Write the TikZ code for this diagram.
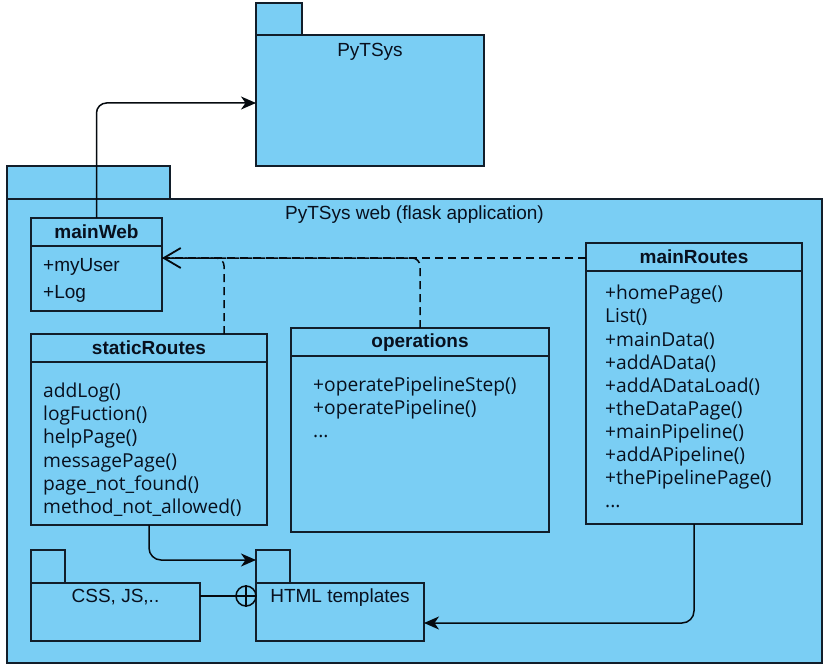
\documentclass[tikz,border=0pt]{standalone}
\usepackage{fontspec}
\setmainfont{Liberation Sans}
\newfontfamily\memfont{Open Sans}
\usetikzlibrary{arrows.meta,calc}
\definecolor{pkgfill}{RGB}{122,206,244}
\definecolor{linec}{RGB}{18,30,42}
\definecolor{arrc}{RGB}{5,10,15}
\definecolor{txt}{RGB}{8,16,30}
\def\mydots{...}
\begin{document}
\begin{tikzpicture}[x=1pt,y=-1pt,
  box/.style={draw=linec, fill=pkgfill, line width=1.4pt, inner sep=0pt, outer sep=0pt, anchor=north west, rectangle},
  lbl/.style={text=txt, font=\fontsize{19}{23}\selectfont, inner sep=0pt, text height=13.6pt, text depth=0pt},
  hdr/.style={lbl, font=\fontsize{19}{23}\selectfont\bfseries},
  mem/.style={lbl, anchor=west, font=\fontsize{19.2}{23}\selectfont\memfont},
  conn/.style={draw=arrc, line width=1.5pt},
  dashconn/.style={conn, dash pattern=on 8pt off 5pt},
  solidtip/.style={-{Stealth[length=15pt,width=13pt,inset=4.5pt]}},
  opentip/.style={-{Straight Barb[length=17pt,width=20pt,line width=1.8pt]}}
]
\path[fill=white,use as bounding box] (0,0) rectangle (827,671);

% PyTSys package
\node[box, minimum width=46pt, minimum height=32pt] (pytab) at (256,3) {};
\node[box, minimum width=228pt, minimum height=131pt] (pytsys) at (256,35) {};
\node[lbl] (pytitle) at (370,49.5) {PyTSys};

% outer package
\node[box, minimum width=163pt, minimum height=33pt] (webtab) at (7,166) {};
\node[box, minimum width=815pt, minimum height=464pt] (web) at (7,199) {};
\node[lbl] (webtitle) at (414.5,212.5) {PyTSys web (flask application)};

% mainWeb
\node[box, minimum width=131pt, minimum height=93pt] (mainWeb) at (31,218) {};
\draw[draw=linec, line width=1.4pt] (mainWeb.north west |- 0,246) -- (mainWeb.north east |- 0,246);
\node[hdr] (mwh) at (96.5,231.5) {mainWeb};
\node[lbl, anchor=west] (mw1) at (43,265) {+myUser};
\node[lbl, anchor=west] (mw2) at (43,292) {+Log};

% staticRoutes
\node[box, minimum width=236pt, minimum height=191pt] (staticRoutes) at (31,334) {};
\draw[draw=linec, line width=1.4pt] (staticRoutes.north west |- 0,362) -- (staticRoutes.north east |- 0,362);
\node[hdr] (srh) at (149,347.5) {staticRoutes};
\foreach \t [count=\i] in {addLog(),logFuction(),helpPage(),messagePage(),page\_not\_found(),method\_not\_allowed()}
  \node[mem] (sr\i) at (43,{390.5+23.3*(\i-1)}) {\t};

% operations
\node[box, minimum width=258pt, minimum height=204pt] (operations) at (291,328) {};
\draw[draw=linec, line width=1.4pt] (operations.north west |- 0,356) -- (operations.north east |- 0,356);
\node[hdr] (oph) at (420,340.5) {operations};
\foreach \t [count=\i] in {+operatePipelineStep(),+operatePipeline(),\mydots}
  \node[mem] (op\i) at (313,{384.5+23*(\i-1)}) {\t};

% mainRoutes
\node[box, minimum width=216pt, minimum height=281pt] (mainRoutes) at (586,243) {};
\draw[draw=linec, line width=1.4pt] (mainRoutes.north west |- 0,271) -- (mainRoutes.north east |- 0,271);
\node[hdr] (mrh) at (694,257) {mainRoutes};
\foreach \t [count=\i] in {+homePage(),List(),+mainData(),+addAData(),+addADataLoad(),+theDataPage(),+mainPipeline(),+addAPipeline(),+thePipelinePage(),\mydots}
  \node[mem] (mr\i) at (605,{293+23.1*(\i-1)}) {\t};

% CSS package
\node[box, minimum width=34pt, minimum height=33pt] (csstab) at (31,550) {};
\node[box, minimum width=169pt, minimum height=58pt] (css) at (31,583) {};
\node[lbl] (csstitle) at (115.5,596) {CSS, JS,..};

% HTML package
\node[box, minimum width=34pt, minimum height=33pt] (htmltab) at (256,550) {};
\node[box, minimum width=168pt, minimum height=58pt] (html) at (256,583) {};
\node[lbl] (htmltitle) at (340,596) {HTML templates};

% connectors
\draw[conn, rounded corners=10pt, solidtip] (mainWeb.north) |- ([yshift=-2.5pt]pytsys.west);
\draw[dashconn, opentip] ([yshift=-15pt]mainRoutes.north west) -- (mainWeb.east |- 0,258);
\draw[dashconn, rounded corners=8pt] ($(staticRoutes.north west)!0.818!(staticRoutes.north east)$) |- (mainWeb.east |- 0,258);
\draw[dashconn, rounded corners=8pt] (operations.north) |- (mainWeb.east |- 0,258);
\draw[conn, rounded corners=12pt, solidtip] (staticRoutes.south) |- ([yshift=6.5pt]htmltab.west);
\draw[conn, rounded corners=12pt, solidtip] (mainRoutes.south) |- ([yshift=-11pt]html.east);

% nesting (circle plus)
\node[circle, draw=arrc, line width=1.5pt, minimum size=20pt, inner sep=0pt] (nest) at (246,596) {};
\draw[conn] ([yshift=16pt]css.east) -- (nest.west);
\draw[conn] (nest.north) -- (nest.south);
\draw[conn] (nest.west) -- (nest.east);
\end{tikzpicture}
\end{document}
